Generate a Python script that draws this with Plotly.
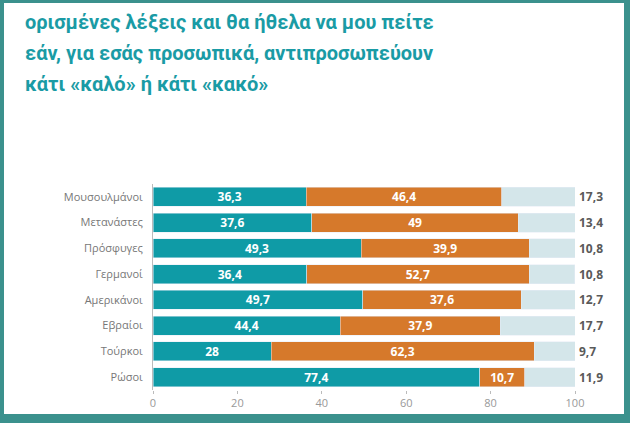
import plotly.graph_objects as go

categories = ["Μουσουλμάνοι", "Μετανάστες", "Πρόσφυγες", "Γερμανοί",
              "Αμερικάνοι", "Εβραίοι", "Τούρκοι", "Ρώσοι"]
kalo = [36.3, 37.6, 49.3, 36.4, 49.7, 44.4, 28, 77.4]
kako = [46.4, 49, 39.9, 52.7, 37.6, 37.9, 62.3, 10.7]
dk = [17.3, 13.4, 10.8, 10.8, 12.7, 17.7, 9.7, 11.9]
tick_vals = [0, 20, 40, 60, 80, 100]
title_lines = ["ορισμένες λέξεις και θα ήθελα να μου πείτε",
               "εάν, για εσάς προσωπικά, αντιπροσωπεύουν",
               "κάτι «καλό» ή κάτι «κακό»"]

W, H = 630, 423
L, R, T, B = 153, 55, 184, 33
PW, PH = W - L - R, H - T - B

def px(x):
    return (x - L) / PW

def py(y):
    return 1 - (y - T) / PH

def fmt(v):
    return ("%g" % v).replace(".", ",")

TEAL = "#0f9ba6"
ORANGE = "#d6792b"
LIGHT = "#d4e6ea"
BORDER = "#3b918d"

valfont = dict(color="white", size=12, family="Open Sans", weight="bold")

fig = go.Figure()
fig.add_trace(go.Bar(y=categories, x=kalo, orientation="h", marker_color=TEAL,
                     text=[fmt(v) for v in kalo], textposition="inside",
                     insidetextanchor="middle", textangle=0, constraintext="none",
                     textfont=valfont, hoverinfo="skip"))
fig.add_trace(go.Bar(y=categories, x=kako, orientation="h", marker_color=ORANGE,
                     text=[fmt(v) for v in kako], textposition="inside",
                     insidetextanchor="middle", textangle=0, constraintext="none",
                     textfont=valfont, hoverinfo="skip"))
fig.add_trace(go.Bar(y=categories, x=dk, orientation="h", marker_color=LIGHT,
                     hoverinfo="skip"))

for c, v in zip(categories, dk):
    fig.add_annotation(x=100, y=c, xref="x", yref="y", text=fmt(v), showarrow=False,
                       xanchor="left", xshift=2,
                       font=dict(size=12, color="#5a5a5a", family="Open Sans", weight="bold"))

for i, line in enumerate(title_lines):
    fig.add_annotation(x=px(23), y=py(22 + 31 * i), xref="paper", yref="paper",
                       text=line, showarrow=False, xanchor="left", yanchor="middle",
                       font=dict(size=20, color="#1a9ba5", family="Roboto", weight="bold"))

# frame
shapes = [
    dict(x0=px(0), x1=px(W), y0=py(0), y1=py(3)),
    dict(x0=px(0), x1=px(4), y0=py(0), y1=py(H)),
    dict(x0=px(624), x1=px(W), y0=py(0), y1=py(H)),
    dict(x0=px(0), x1=px(W), y0=py(414), y1=py(H)),
]
for s in shapes:
    fig.add_shape(type="rect", xref="paper", yref="paper", line_width=0,
                  fillcolor=BORDER, **s)

fig.update_layout(
    width=W, height=H, barmode="stack", bargap=0.27, showlegend=False,
    margin=dict(l=L, r=R, t=T, b=B, pad=0),
    paper_bgcolor="white", plot_bgcolor="white",
    font=dict(family="Open Sans"),
    xaxis=dict(range=[0, 100], tickvals=tick_vals, showgrid=False, zeroline=False,
               ticks="outside", ticklen=3, tickcolor="#bbb",
               tickfont=dict(size=11, color="#999")),
    yaxis=dict(autorange="reversed", showgrid=False, showline=True, linecolor="#bbb",
               linewidth=1, ticks="", ticklabelstandoff=7,
               tickfont=dict(size=11, color="#777")),
)
fig.write_html("out.html")
